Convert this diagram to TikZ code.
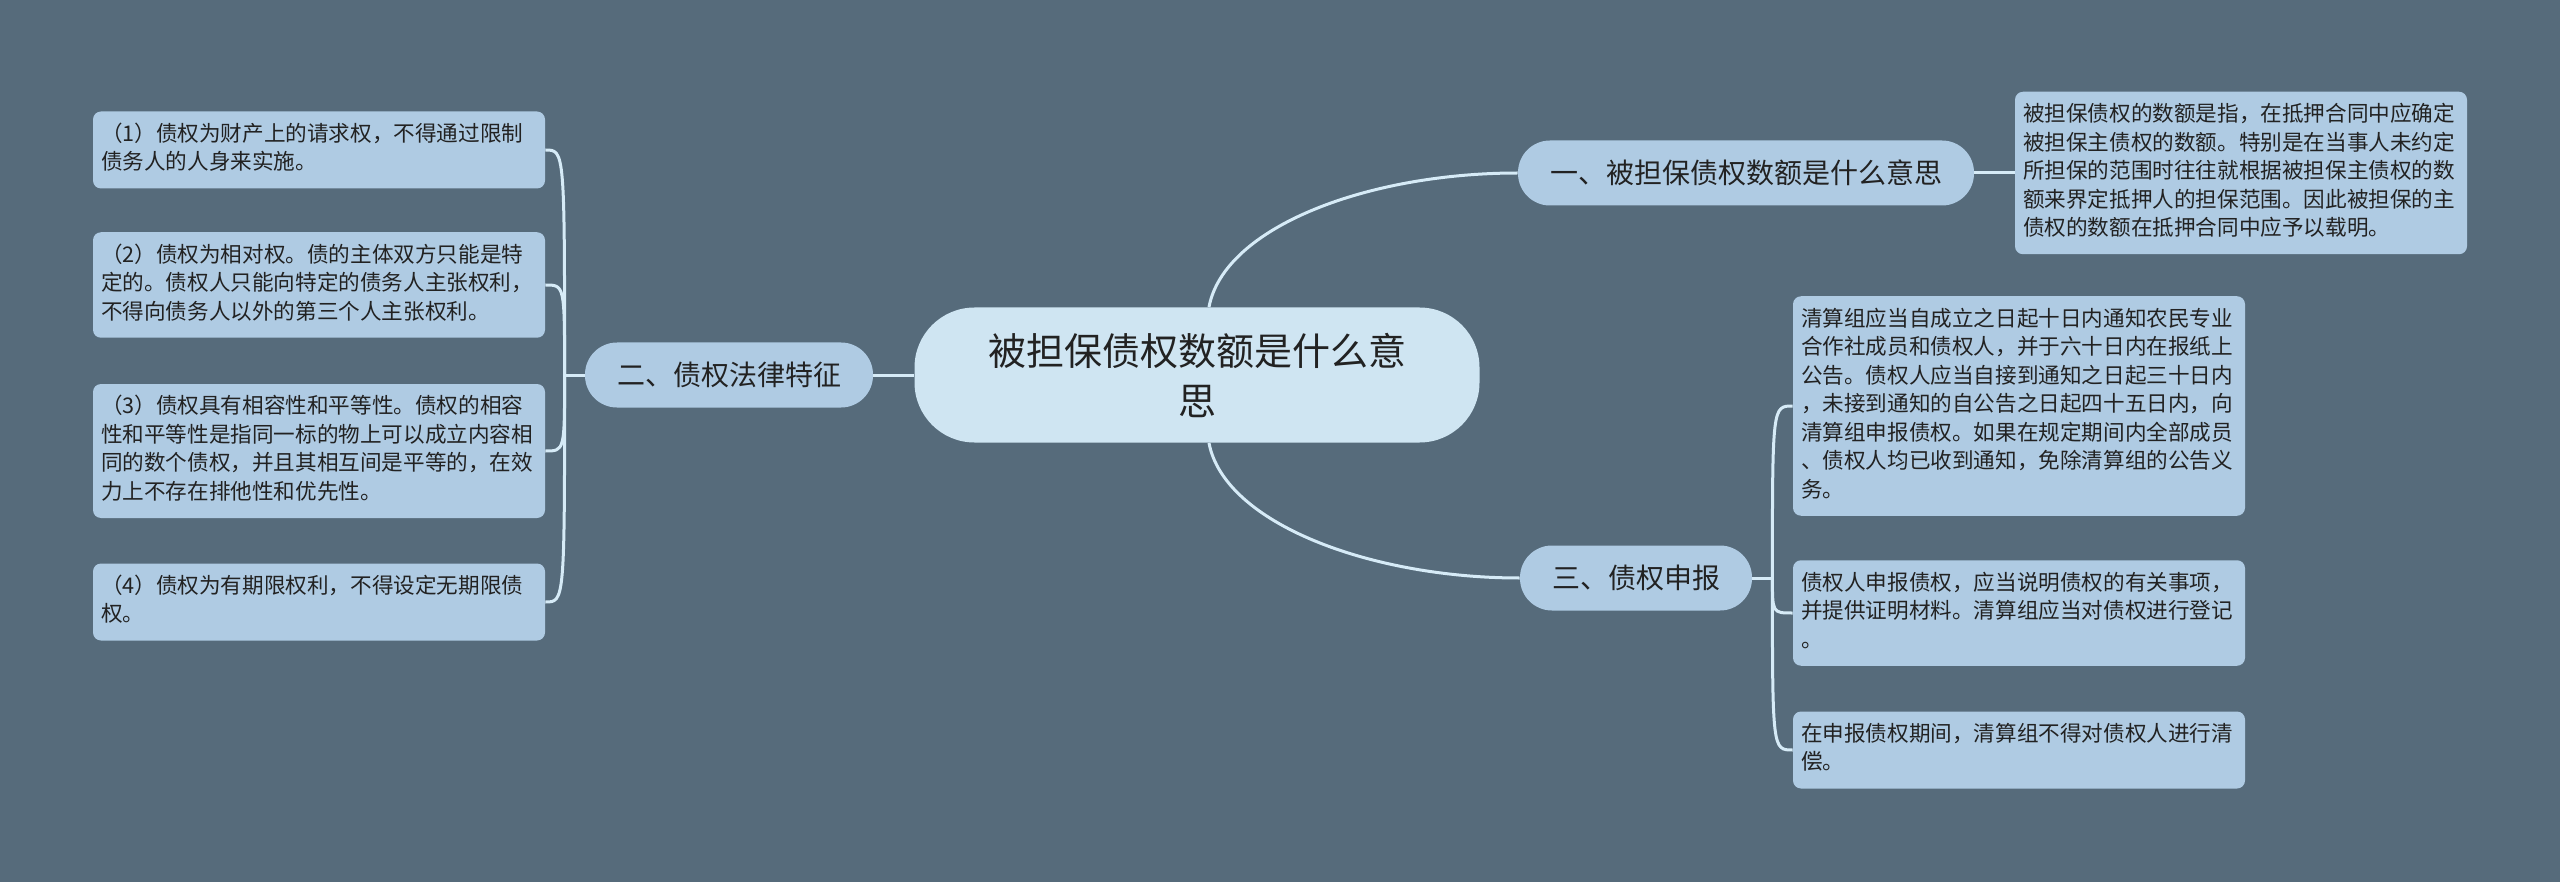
\documentclass[tikz,border=0pt]{standalone}
\usepackage{fontspec}
\setmainfont{Noto Sans CJK SC}
\usetikzlibrary{positioning}
\definecolor{fondcol}{HTML}{566B7B}
\definecolor{leafcol}{HTML}{AFCBE3}
\definecolor{rootcol}{HTML}{CFE5F2}
\definecolor{linkcol}{HTML}{D6EBF7}
\definecolor{textcol}{HTML}{222222}
\begin{document}
\begin{tikzpicture}[x=0.5pt,y=-0.5pt,
  rootbox/.style={fill=rootcol, text=textcol, rounded corners=30pt, minimum width=282.5pt,
    minimum height=67.5pt, align=center, font=\fontsize{19pt}{25pt}\selectfont},
  branchbox/.style={fill=leafcol, text=textcol, rounded corners=16pt, minimum height=32.5pt,
    inner xsep=16pt, font=\fontsize{14pt}{17pt}\selectfont},
  leafbox/.style={fill=leafcol, text=textcol, rounded corners=4pt, text width=218pt,
    inner xsep=4pt, inner ysep=5pt, align=left, font=\fontsize{10.8pt}{14.25pt}\selectfont,
    execute at begin node=\strut, execute at end node=\strut},
  link/.style={draw=linkcol, line width=1.5pt}]
  \fill[fondcol] (0,0) rectangle (2560,882);
  \useasboundingbox (0,0) rectangle (2560,882);
  % Noeud central et branches
  \node[rootbox] (root) at (1197,375) {被担保债权数额是什么意\\思};
  \node[branchbox] (one) at (1746,173) {一、被担保债权数额是什么意思};
  \node[branchbox] (two) at (729,375) {二、债权法律特征};
  \node[branchbox] (three) at (1636,578) {三、债权申报};
  % Feuilles de gauche
  \node[leafbox] (twoa) at (319,150) {（1）债权为财产上的请求权，不得通过限制\\债务人的人身来实施。};
  \node[leafbox] (twob) at (319,285) {（2）债权为相对权。债的主体双方只能是特\\定的。债权人只能向特定的债务人主张权利，\\不得向债务人以外的第三个人主张权利。};
  \node[leafbox] (twoc) at (319,451) {（3）债权具有相容性和平等性。债权的相容\\性和平等性是指同一标的物上可以成立内容相\\同的数个债权，并且其相互间是平等的，在效\\力上不存在排他性和优先性。};
  \node[leafbox] (twod) at (319,602) {（4）债权为有期限权利，不得设定无期限债\\权。};
  % Feuilles de droite
  \node[leafbox] (onea) at (2241,173) {被担保债权的数额是指，在抵押合同中应确定\\被担保主债权的数额。特别是在当事人未约定\\所担保的范围时往往就根据被担保主债权的数\\额来界定抵押人的担保范围。因此被担保的主\\债权的数额在抵押合同中应予以载明。};
  \node[leafbox] (threea) at (2019,406) {清算组应当自成立之日起十日内通知农民专业\\合作社成员和债权人，并于六十日内在报纸上\\公告。债权人应当自接到通知之日起三十日内\\，未接到通知的自公告之日起四十五日内，向\\清算组申报债权。如果在规定期间内全部成员\\、债权人均已收到通知，免除清算组的公告义\\务。};
  \node[leafbox] (threeb) at (2019,613) {债权人申报债权，应当说明债权的有关事项，\\并提供证明材料。清算组应当对债权进行登记\\。};
  \node[leafbox] (threec) at (2019,750) {在申报债权期间，清算组不得对债权人进行清\\偿。};
  \coordinate[left=10pt of two.west] (twoj);
  \coordinate[right=10pt of three.east] (threej);
  % Liaisons
  \draw[link] (root) -- (two);
  \draw[link] (root.80) .. controls +(15,-80) and +(-150,0) .. (one.west);
  \draw[link] (root.-80) .. controls +(15,80) and +(-150,0) .. (three.west);
  \draw[link] (one) -- (onea);
  \draw[link] (two.west) -- (twoj);
  \draw[link] (three.east) -- (threej);
  \foreach \f in {twoa,twob,twoc,twod}
    \draw[link] (twoj) .. controls (twoj |- \f.east) .. (\f.east);
  \foreach \f in {threea,threeb,threec}
    \draw[link] (threej) .. controls (threej |- \f.west) .. (\f.west);
\end{tikzpicture}
\end{document}
